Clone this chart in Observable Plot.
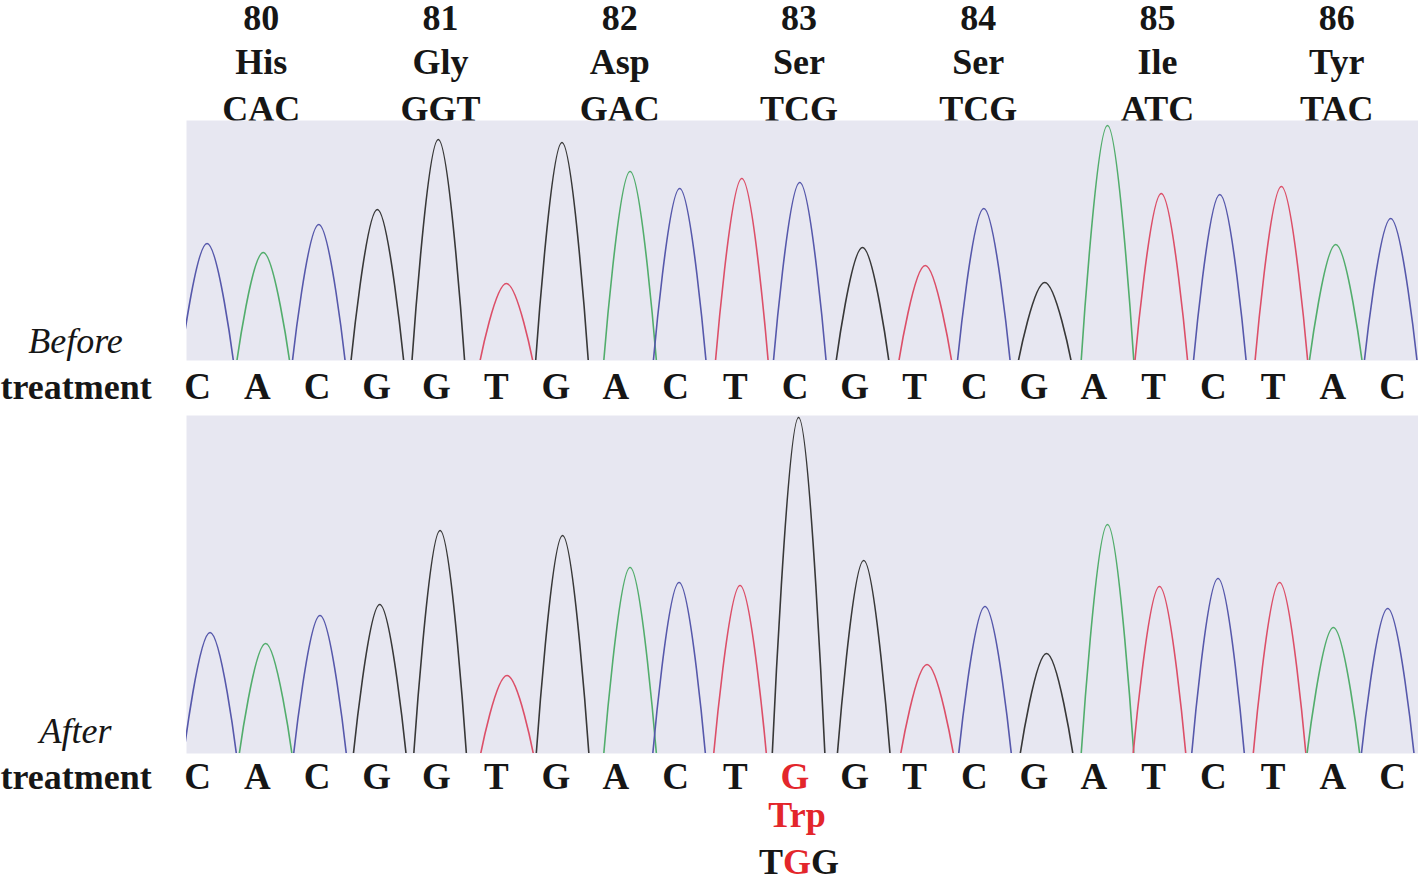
<!DOCTYPE html>
<html>
<head>
<meta charset="utf-8">
<script src="https://cdn.jsdelivr.net/npm/d3@7"></script>
<script src="https://cdn.jsdelivr.net/npm/@observablehq/plot@0.6"></script>
<style>
  html, body { margin: 0; padding: 0; background: #ffffff; }
  #chart { width: 1418px; height: 875px; overflow: hidden; background: #ffffff; }
  #chart svg { display: block; }
</style>
</head>
<body>
<div id="chart"></div>
<script>
// ---- Data ----
const codonNumbers = [80, 81, 82, 83, 84, 85, 86];
const aminoAcids = ["His", "Gly", "Asp", "Ser", "Ser", "Ile", "Tyr"];
const codons = ["CAC", "GGT", "GAC", "TCG", "TCG", "ATC", "TAC"];

const beforeSeq = ["C","A","C","G","G","T","G","A","C","T","C","G","T","C","G","A","T","C","T","A","C"];
const afterSeq  = ["C","A","C","G","G","T","G","A","C","T","G","G","T","C","G","A","T","C","T","A","C"];

// peak positions (in base-call index units) and peak intensities (relative units)
const beforePeakPos = [0.16, 1.10, 2.03, 3.01, 4.03, 5.17, 6.10, 7.24, 8.07, 9.11, 10.08, 11.13, 12.18, 13.16, 14.18, 15.23, 16.13, 17.11, 18.14, 19.05, 19.97];
const beforePeakHeight = [117, 108, 136, 151, 221, 77, 218, 189, 172, 182, 178, 113, 95, 152, 78, 235, 167, 166, 174, 116, 142];

const afterPeakPos = [0.21, 1.14, 2.05, 3.05, 4.06, 5.18, 6.11, 7.24, 8.06, 9.08, 10.06, 11.15, 12.21, 13.18, 14.21, 15.23, 16.10, 17.08, 18.11, 19.01, 19.92];
const afterPeakHeight = [121, 110, 138, 149, 223, 78, 218, 186, 171, 168, 336, 193, 89, 147, 100, 229, 167, 175, 171, 126, 145];

const mutationIndex = 10;
const mutantAminoAcid = "Trp";
const mutantCodon = ["T", "G", "G"];
const sideLabels = [["Before", "treatment"], ["After", "treatment"]];

// ---- Styles ----
const baseColors = { A: "#52ad6c", C: "#5658ab", G: "#383838", T: "#dc4f68" };
const ink = "#161616";
const red = "#e3262b";
const panelFill = "#e7e7f1";
const serif = "Liberation Serif, Times New Roman, serif";
const halfWidth = 0.44; // peak half base width in index units

// x scale: index 0 sits at 197px; panel spans 186..1418
const W = 1418, ML = 186, step = 59.75;
const xDomain = [(ML - 197) / step, (W - 197) / step];

function peakPoints(seq, pos, hgt) {
  const pts = [];
  seq.forEach((b, i) => {
    pts.push({ peak: i, base: b, x: pos[i] - halfWidth, y: 0 });
    pts.push({ peak: i, base: b, x: pos[i], y: hgt[i] });
    pts.push({ peak: i, base: b, x: pos[i] + halfWidth, y: 0 });
  });
  return pts;
}

// each codon label sits over the middle base of its codon
const codonMid = (d, k) => 3 * k + 1;

const txt = { fontFamily: serif, fontWeight: "bold", fontSize: 37, lineAnchor: "bottom", textAnchor: "middle" };
const head = { ...txt, fontSize: 36, dx: 4, frameAnchor: "top", fill: ink };
const peakLine = { x: "x", y: "y", z: "peak", stroke: d => baseColors[d.base],
  curve: "cardinal", tension: -0.25, strokeWidth: 1.6, clip: true };

function sideMarks(labels, dyItalic, dyBold) {
  return [
    Plot.text([labels[0]], { text: d => d, frameAnchor: "bottom-left", dx: 75 - ML, dy: dyItalic,
      fontFamily: serif, fontStyle: "italic", fontSize: 36, lineAnchor: "bottom", textAnchor: "middle", fill: ink }),
    Plot.text([labels[1]], { text: d => d, frameAnchor: "bottom-left", dx: -ML, dy: dyBold,
      fontFamily: serif, fontWeight: "bold", fontSize: 36, lineAnchor: "bottom", textAnchor: "start", fill: ink })
  ];
}

// ---- Top panel (before treatment) ----
const topPanel = Plot.plot({
  width: W, height: 405,
  marginLeft: ML, marginRight: 0, marginTop: 120, marginBottom: 45,
  x: { domain: xDomain, axis: null },
  y: { domain: [0, 240], axis: null },
  color: { type: "identity" },
  style: { background: "transparent", overflow: "visible" },
  marks: [
    Plot.text(codonNumbers, { ...head, x: codonMid, text: d => String(d), dy: -91 }),
    Plot.text(aminoAcids, { ...head, x: codonMid, text: d => d, dy: -47 }),
    Plot.text(codons, { ...head, x: codonMid, text: d => d, dy: 0 }),
    Plot.frame({ fill: panelFill, stroke: "none" }),
    Plot.line(peakPoints(beforeSeq, beforePeakPos, beforePeakHeight), peakLine),
    Plot.text(beforeSeq, { ...txt, x: (d, i) => i, text: d => d, frameAnchor: "bottom", dy: 38, fill: ink }),
    ...sideMarks(sideLabels[0], -8, 38)
  ]
});

// ---- Bottom panel (after treatment) ----
const bottomPanel = Plot.plot({
  width: W, height: 470,
  marginLeft: ML, marginRight: 0, marginTop: 10, marginBottom: 122,
  x: { domain: xDomain, axis: null },
  y: { domain: [0, 338], axis: null },
  color: { type: "identity" },
  style: { background: "transparent", overflow: "visible" },
  marks: [
    Plot.frame({ fill: panelFill, stroke: "none" }),
    Plot.line(peakPoints(afterSeq, afterPeakPos, afterPeakHeight), peakLine),
    Plot.text(afterSeq, { ...txt, x: (d, i) => i, text: d => d, frameAnchor: "bottom",
      dy: 35, fill: (d, i) => i === mutationIndex ? red : ink }),
    Plot.text([mutantAminoAcid], { ...txt, fontSize: 36, x: () => mutationIndex, text: d => d,
      frameAnchor: "bottom", dy: 73, dx: 2, fill: red }),
    Plot.text([mutantCodon[0]], { ...txt, fontSize: 36, x: () => mutationIndex, text: d => d,
      frameAnchor: "bottom", dy: 120, textAnchor: "end", dx: -12, fill: ink }),
    Plot.text([mutantCodon[1]], { ...txt, fontSize: 36, x: () => mutationIndex, text: d => d,
      frameAnchor: "bottom", dy: 120, textAnchor: "middle", dx: 2, fill: red }),
    Plot.text([mutantCodon[2]], { ...txt, fontSize: 36, x: () => mutationIndex, text: d => d,
      frameAnchor: "bottom", dy: 120, textAnchor: "start", dx: 16, fill: ink }),
    ...sideMarks(sideLabels[1], -11, 35)
  ]
});

const chart = document.getElementById("chart");
chart.appendChild(topPanel);
chart.appendChild(bottomPanel);
</script>
</body>
</html>
